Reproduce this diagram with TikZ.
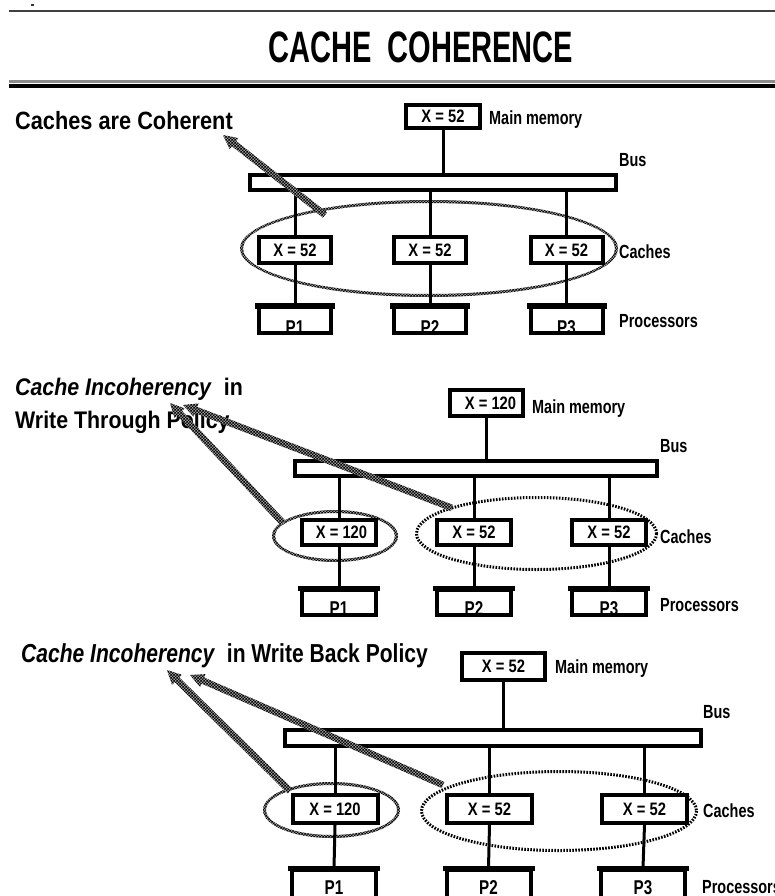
\documentclass[tikz,border=0pt]{standalone}
\usepackage{fontspec}
\usepackage{graphicx}
\setmainfont{Liberation Sans}
\usetikzlibrary{calc,patterns}

% fine black/white checker used for the hatched rims and pointers
\pgfdeclarepatternformonly{checker}{\pgfpointorigin}{\pgfqpoint{3.4pt}{3.4pt}}{\pgfqpoint{3.4pt}{3.4pt}}{%
  \pgfpathrectangle{\pgfpointorigin}{\pgfqpoint{1.7pt}{1.7pt}}%
  \pgfpathrectangle{\pgfqpoint{1.7pt}{1.7pt}}{\pgfqpoint{1.7pt}{1.7pt}}%
  \pgfusepath{fill}}

% horizontally condensed text
\newcommand\nar[2]{\scalebox{#1}[1]{#2}}
\newcommand\lab[1]{\nar{0.76}{#1}}
\newcommand\val[1]{\nar{0.82}{#1}}

\tikzset{
  hatchbase/.style={fill=black!40},
  hatchtop/.style={pattern=checker, pattern color=black}
}

% checkered elliptic rim: centre, outer radii, inner radii
\newcommand\hatchrim[5]{%
  \fill[hatchbase, even odd rule]
    (#1) ellipse [x radius=#2, y radius=#3]
    (#1) ellipse [x radius=#4, y radius=#5];
  \fill[hatchtop, even odd rule]
    (#1) ellipse [x radius=#2, y radius=#3]
    (#1) ellipse [x radius=#4, y radius=#5];}

% checkered block pointer from a tail coordinate to a tip coordinate
\newcommand\hatcharrow[2]{%
  \coordinate (hb) at ($(#2)!14pt!(#1)$);
  \fill[hatchtop, preaction={hatchbase}]
    ($(#1)!3.3pt!90:(#2)$) -- ($(hb)!3.3pt!90:(#2)$) -- ($(hb)!7pt!90:(#2)$)
    -- (#2) -- ($(hb)!7pt!-90:(#2)$) -- ($(hb)!3.3pt!-90:(#2)$)
    -- ($(#1)!3.3pt!-90:(#2)$) -- cycle;}

\begin{document}
\begin{tikzpicture}[x=1pt, y=-1pt,
  wire/.style={line width=3pt},
  box/.style={draw, line width=4pt, inner sep=0pt, font=\fontsize{18}{18}\selectfont\bfseries},
  busbox/.style={draw, line width=4pt, inner sep=0pt},
  lbl/.style={anchor=base west, inner sep=0pt, font=\fontsize{19}{19}\selectfont\bfseries},
  ptxt/.style={anchor=base, inner sep=0pt, font=\fontsize{20}{20}\selectfont\bfseries},
  head/.style={anchor=base west, inner sep=0pt, font=\fontsize{25}{25}\selectfont\bfseries},
  dotrim/.style={line width=3pt, dash pattern=on 1.6pt off 1.4pt},
  topbar/.style={line width=6pt}
]
\useasboundingbox (0,0) rectangle (775,896);

% ---------- title and rules ----------
\fill[black!80] (31,4) rectangle (34,6);
\draw[line width=2pt, black!75] (9,11) -- (775,11);
\node[anchor=base west, inner sep=0pt, font=\fontsize{44}{44}\selectfont\bfseries] (title) at (268,63)
  {\nar{0.66}{CACHE\ \ COHERENCE}};
\draw[line width=3.3pt, black!45] (9,81.7) -- (775,81.7);
\draw[line width=4pt, black] (9,86.3) -- (775,86.3);

% ---------- part 1: caches are coherent ----------
\coordinate (e1) at (429,248.5);
\hatchrim{e1}{189}{48.5}{186}{45.5}

\node[box, minimum width=74pt, minimum height=23pt] (m1) at (443,116.5) {\val{X = 52}};
\node[busbox, minimum width=366pt, minimum height=15pt] (b1) at (433,182.5) {};
\node[box, minimum width=72pt, minimum height=26pt] (c11) at (295,250) {\val{X = 52}};
\node[box, minimum width=72pt, minimum height=26pt] (c12) at (430,250) {\val{X = 52}};
\node[box, minimum width=72pt, minimum height=26pt] (c13) at (566.5,250) {\val{X = 52}};
\node[ptxt] (t11) at (295,334) {\lab{P1}};
\node[ptxt] (t12) at (430,334) {\lab{P2}};
\node[ptxt] (t13) at (566.5,334) {\lab{P3}};
\node[busbox, minimum width=72pt, minimum height=26pt] (p11) at (295,320) {};
\node[busbox, minimum width=72pt, minimum height=26pt] (p12) at (430,320) {};
\node[busbox, minimum width=72pt, minimum height=26pt] (p13) at (566.5,320) {};

\draw[wire] (m1.south) -- (m1.south |- b1.north);
\foreach \i in {1,2,3} {
  \draw[wire] (c1\i.north |- b1.south) -- (c1\i.north);
  \draw[wire] (c1\i.south) -- (p1\i.north);
  \draw[topbar] ([shift={(-2pt,-1pt)}]p1\i.north west) -- ([shift={(2pt,-1pt)}]p1\i.north east);
}

\node[lbl] (mm1) at (489,125) {\lab{Main memory}};
\node[lbl] (bl1) at (619,167) {\lab{Bus}};
\node[lbl] (cl1) at (619,258) {\lab{Caches}};
\node[lbl] (pl1) at (619,327) {\lab{Processors}};

\node[head] (h1) at (15,130) {\nar{0.87}{Caches are Coherent}};
\coordinate (a1tip) at (223,135);
\coordinate (a1tail) at (325,215);
\hatcharrow{a1tail}{a1tip}

% ---------- part 2: write through ----------
\coordinate (e2a) at (335,536);
\coordinate (e2b) at (536.5,533.5);
\hatchrim{e2a}{63}{26}{60}{23}
\draw[dotrim] (e2b) ellipse [x radius=120, y radius=36];

\node[box, minimum width=73pt, minimum height=26pt] (m2) at (486.5,403) {\hspace*{8pt}\val{X = 120}};
\node[busbox, minimum width=362pt, minimum height=15pt] (b2) at (476,468.5) {};
\node[box, minimum width=74pt, minimum height=25pt] (c21) at (339,532.5) {\hspace*{5pt}\val{X = 120}};
\node[box, minimum width=74pt, minimum height=25pt] (c22) at (474,532.5) {\val{X = 52}};
\node[box, minimum width=74pt, minimum height=25pt] (c23) at (609,532.5) {\val{X = 52}};
\node[ptxt] (t21) at (339,615) {\lab{P1}};
\node[ptxt] (t22) at (474,615) {\lab{P2}};
\node[ptxt] (t23) at (609,615) {\lab{P3}};
\node[busbox, minimum width=74pt, minimum height=25pt] (p21) at (339,602.5) {};
\node[busbox, minimum width=74pt, minimum height=25pt] (p22) at (474,602.5) {};
\node[busbox, minimum width=74pt, minimum height=25pt] (p23) at (609,602.5) {};

\draw[wire] (m2.south) -- (m2.south |- b2.north);
\foreach \i in {1,2,3} {
  \draw[wire] (c2\i.north |- b2.south) -- (c2\i.north);
  \draw[wire] (c2\i.south) -- (p2\i.north);
  \draw[line width=5pt] ([shift={(-2pt,-0.5pt)}]p2\i.north west) -- ([shift={(2pt,-0.5pt)}]p2\i.north east);
}

\node[lbl] (mm2) at (532,413) {\lab{Main memory}};
\node[lbl] (bl2) at (660,452) {\lab{Bus}};
\node[lbl] (cl2) at (660,543) {\lab{Caches}};
\node[lbl] (pl2) at (660,611) {\lab{Processors}};

\node[head, font=\fontsize{24}{24}\selectfont\bfseries] (h2a) at (15,395)
  {\nar{0.89}{\textit{Cache Incoherency}\ \ in}};
\node[head, font=\fontsize{24}{24}\selectfont\bfseries] (h2b) at (15,428)
  {\nar{0.89}{Write Through Policy}};
\coordinate (a2tip) at (170,403);
\coordinate (a2tail) at (283,523);
\coordinate (a3tip) at (183,405);
\coordinate (a3tail) at (452,508);
\hatcharrow{a2tail}{a2tip}
\hatcharrow{a3tail}{a3tip}

% ---------- part 3: write back ----------
\coordinate (e3a) at (331.5,810);
\coordinate (e3b) at (559,811);
\hatchrim{e3a}{68.5}{28}{65.5}{25}
\draw[dotrim] (e3b) ellipse [x radius=137.5, y radius=39.5];

\node[box, minimum width=83pt, minimum height=27pt] (m3) at (503.5,666.5) {\val{X = 52}};
\node[busbox, minimum width=416pt, minimum height=16pt] (b3) at (493,738) {};
\node[box, minimum width=85pt, minimum height=28pt] (c31) at (335,809) {\val{X = 120}};
\node[box, minimum width=85pt, minimum height=28pt] (c32) at (489.5,809) {\val{X = 52}};
\node[box, minimum width=85pt, minimum height=28pt] (c33) at (644.5,809) {\val{X = 52}};
\node[ptxt] (t31) at (334,894) {\lab{P1}};
\node[ptxt] (t32) at (488.5,894) {\lab{P2}};
\node[ptxt] (t33) at (643,894) {\lab{P3}};
\node[busbox, minimum width=84pt, minimum height=28pt] (p31) at (334,884) {};
\node[busbox, minimum width=84pt, minimum height=28pt] (p32) at (488.5,884) {};
\node[busbox, minimum width=84pt, minimum height=28pt] (p33) at (643,884) {};

\draw[wire] (m3.south) -- (m3.south |- b3.north);
\foreach \i in {1,2,3} {
  \draw[wire] (c3\i.north |- b3.south) -- (c3\i.north);
  \draw[wire] (c3\i.south) -- (p3\i.north);
  \draw[line width=5pt] ([shift={(-2pt,-0.5pt)}]p3\i.north west) -- ([shift={(2pt,-0.5pt)}]p3\i.north east);
}

\node[lbl] (mm3) at (555,673) {\lab{Main memory}};
\node[lbl] (bl3) at (703,718) {\lab{Bus}};
\node[lbl] (cl3) at (703,817) {\lab{Caches}};
\node[lbl] (pl3) at (702,893) {\lab{Processors}};

\node[head, font=\fontsize{26}{26}\selectfont\bfseries] (h3) at (21,662)
  {\nar{0.81}{\textit{Cache Incoherency}\ \ in Write Back Policy}};
\coordinate (a4tip) at (167,670);
\coordinate (a4tail) at (290,791);
\coordinate (a5tip) at (190,675);
\coordinate (a5tail) at (443,785);
\hatcharrow{a4tail}{a4tip}
\hatcharrow{a5tail}{a5tip}
\end{tikzpicture}
\end{document}
